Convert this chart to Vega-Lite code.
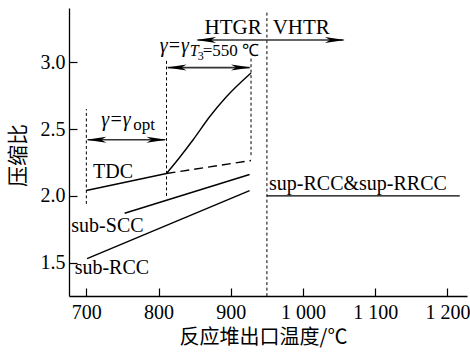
{
  "$schema": "https://vega.github.io/schema/vega-lite/v6.json",
  "width": 398,
  "height": 288,
  "autosize": "none",
  "padding": {"left": 69, "top": 8, "right": 3, "bottom": 58},
  "background": "white",
  "config": {
    "view": {"stroke": null},
    "axis": {
      "grid": false,
      "domainColor": "black",
      "domainWidth": 1.3,
      "tickColor": "black",
      "tickWidth": 1.2,
      "tickSize": -8,
      "labelFont": "Liberation Serif",
      "labelFontSize": 20,
      "labelColor": "black",
      "titleFont": "Noto Sans CJK SC",
      "titleFontWeight": "normal",
      "titleColor": "black"
    }
  },
  "datasets": {
    "lines": [
      {"id": "TDC", "kind": "solid", "t": 700, "r": 2.04, "o": 1},
      {"id": "TDC", "kind": "solid", "t": 811, "r": 2.168, "o": 2},
      {"id": "TDC-T3", "kind": "curve", "t": 811, "r": 2.168, "o": 1},
      {"id": "TDC-T3", "kind": "curve", "t": 828, "r": 2.28, "o": 2},
      {"id": "TDC-T3", "kind": "curve", "t": 847.6, "r": 2.418, "o": 3},
      {"id": "TDC-T3", "kind": "curve", "t": 870.7, "r": 2.592, "o": 4},
      {"id": "TDC-T3", "kind": "curve", "t": 893.9, "r": 2.742, "o": 5},
      {"id": "TDC-T3", "kind": "curve", "t": 928, "r": 2.92, "o": 6},
      {"id": "sub-SCC", "kind": "solid", "t": 753, "r": 1.87, "o": 1},
      {"id": "sub-SCC", "kind": "solid", "t": 926, "r": 2.16, "o": 2},
      {"id": "sub-RCC", "kind": "solid", "t": 701, "r": 1.53, "o": 1},
      {"id": "sub-RCC", "kind": "solid", "t": 926, "r": 2.04, "o": 2},
      {"id": "sup", "kind": "solid", "t": 950, "r": 2.0, "o": 1},
      {"id": "sup", "kind": "solid", "t": 1217, "r": 2.0, "o": 2},
      {"id": "TDC-opt", "kind": "dash", "t": 811, "r": 2.168, "o": 1},
      {"id": "TDC-opt", "kind": "dash", "t": 928, "r": 2.265, "o": 2},
      {"id": "v700", "kind": "dot", "t": 700, "r": 1.94, "o": 1},
      {"id": "v700", "kind": "dot", "t": 700, "r": 2.65, "o": 2},
      {"id": "v811", "kind": "dot", "t": 811, "r": 2.0, "o": 1},
      {"id": "v811", "kind": "dot", "t": 811, "r": 3.02, "o": 2},
      {"id": "v928", "kind": "dot", "t": 928, "r": 2.305, "o": 1},
      {"id": "v928", "kind": "dot", "t": 928, "r": 3.03, "o": 2},
      {"id": "v950", "kind": "dot", "t": 950, "r": 1.25, "o": 1},
      {"id": "v950", "kind": "dot", "t": 950, "r": 3.39, "o": 2},
      {"id": "a-opt", "kind": "arrow", "t": 702, "r": 2.42, "o": 1},
      {"id": "a-opt", "kind": "arrow", "t": 809, "r": 2.42, "o": 2},
      {"id": "a-T3", "kind": "arrow", "t": 813, "r": 2.96, "o": 1},
      {"id": "a-T3", "kind": "arrow", "t": 926, "r": 2.96, "o": 2},
      {"id": "a-HT", "kind": "arrow", "t": 854, "r": 3.167, "o": 1},
      {"id": "a-HT", "kind": "arrow", "t": 1056, "r": 3.167, "o": 2}
    ],
    "heads": [
      {"t": 700, "r": 2.42, "dir": "left"},
      {"t": 811, "r": 2.42, "dir": "right"},
      {"t": 811, "r": 2.96, "dir": "left"},
      {"t": 928, "r": 2.96, "dir": "right"},
      {"t": 852, "r": 3.167, "dir": "left"},
      {"t": 1058, "r": 3.167, "dir": "right"}
    ],
    "labels": [
      {"t": 709.2, "r": 2.132, "text": "TDC", "style": "main", "align": "left"},
      {"t": 679.2, "r": 1.73, "text": "sub-SCC", "style": "main", "align": "left"},
      {"t": 683.8, "r": 1.412, "text": "sub-RCC", "style": "main", "align": "left"},
      {"t": 952.9, "r": 2.043, "text": "sup-RCC&sup-RRCC", "style": "main", "align": "left"},
      {"t": 942.8, "r": 3.21, "text": "HTGR", "style": "big", "align": "right"},
      {"t": 958, "r": 3.21, "text": "VHTR", "style": "big", "align": "left"},
      {"t": 720.8, "r": 2.522, "text": "γ=γ", "style": "ital", "align": "left"},
      {"t": 764.8, "r": 2.492, "text": "opt", "style": "sub", "align": "left"},
      {"t": 801.5, "r": 3.077, "text": "γ=γ", "style": "ital", "align": "left"},
      {"t": 843.2, "r": 3.047, "text": "T", "style": "subital", "align": "left"},
      {"t": 854.2, "r": 3.017, "text": "3", "style": "subsub", "align": "left"},
      {"t": 861.2, "r": 3.047, "text": "=550 ℃", "style": "sub", "align": "left"}
    ]
  },
  "encoding": {
    "x": {
      "field": "t", "type": "quantitative",
      "scale": {"domain": [676, 1227], "nice": false, "zero": false},
      "axis": {
        "values": [700, 800, 900, 1000, 1100, 1200],
        "labelExpr": "replace(format(datum.value, ','), ',', ' ')",
        "labelPadding": 14,
        "title": "反应堆出口温度/℃",
        "titleFontSize": 20,
        "titleX": 194,
        "titleY": 47,
        "titleBaseline": "alphabetic",
        "titleAnchor": null
      }
    },
    "y": {
      "field": "r", "type": "quantitative",
      "scale": {"domain": [1.251, 3.406], "nice": false, "zero": false},
      "axis": {
        "values": [1.5, 2.0, 2.5, 3.0],
        "format": ".1f",
        "labelPadding": 12,
        "title": "压缩比",
        "titleFontSize": 21,
        "titleX": -51,
        "titleY": 147,
        "titleAngle": -90,
        "titleBaseline": "middle",
        "titleAlign": "center"
      }
    }
  },
  "layer": [
    {
      "data": {"name": "lines"},
      "transform": [{"filter": "datum.kind === 'solid'"}],
      "mark": {"type": "line", "color": "black", "strokeWidth": 1.4},
      "encoding": {"detail": {"field": "id"}, "order": {"field": "o"}}
    },
    {
      "data": {"name": "lines"},
      "transform": [{"filter": "datum.kind === 'curve'"}],
      "mark": {"type": "line", "color": "black", "strokeWidth": 1.4, "interpolate": "monotone"},
      "encoding": {"detail": {"field": "id"}, "order": {"field": "o"}}
    },
    {
      "data": {"name": "lines"},
      "transform": [{"filter": "datum.kind === 'dash'"}],
      "mark": {"type": "line", "color": "black", "strokeWidth": 1.4, "strokeDash": [9, 5]},
      "encoding": {"detail": {"field": "id"}, "order": {"field": "o"}}
    },
    {
      "data": {"name": "lines"},
      "transform": [{"filter": "datum.kind === 'dot'"}],
      "mark": {"type": "line", "color": "black", "strokeWidth": 1, "strokeDash": [3, 2.5]},
      "encoding": {"detail": {"field": "id"}, "order": {"field": "o"}}
    },
    {
      "data": {"name": "lines"},
      "transform": [{"filter": "datum.kind === 'arrow'"}],
      "mark": {"type": "line", "color": "#333", "strokeWidth": 1.6},
      "encoding": {"detail": {"field": "id"}, "order": {"field": "o"}}
    },
    {
      "data": {"name": "heads"},
      "mark": {"type": "point", "filled": true, "color": "black", "opacity": 1, "size": 400, "strokeWidth": 0},
      "encoding": {
        "shape": {
          "field": "dir", "type": "nominal",
          "scale": {"domain": ["left", "right"], "range": ["M0,0L2,-0.3L1.5,0L2,0.3Z", "M0,0L-2,-0.3L-1.5,0L-2,0.3Z"]},
          "legend": null
        }
      }
    },
    {
      "data": {"name": "labels"},
      "transform": [{"filter": "datum.style === 'main' && datum.align === 'left'"}],
      "mark": {"type": "text", "font": "Liberation Serif", "fontSize": 20, "align": "left", "baseline": "alphabetic", "color": "black"},
      "encoding": {"text": {"field": "text"}}
    },
    {
      "data": {"name": "labels"},
      "transform": [{"filter": "datum.style === 'big' && datum.align === 'left'"}],
      "mark": {"type": "text", "font": "Liberation Serif", "fontSize": 21, "align": "left", "baseline": "alphabetic", "color": "black"},
      "encoding": {"text": {"field": "text"}}
    },
    {
      "data": {"name": "labels"},
      "transform": [{"filter": "datum.style === 'big' && datum.align === 'right'"}],
      "mark": {"type": "text", "font": "Liberation Serif", "fontSize": 21, "align": "right", "baseline": "alphabetic", "color": "black"},
      "encoding": {"text": {"field": "text"}}
    },
    {
      "data": {"name": "labels"},
      "transform": [{"filter": "datum.style === 'ital'"}],
      "mark": {"type": "text", "font": "Liberation Serif", "fontSize": 20, "fontStyle": "italic", "align": "left", "baseline": "alphabetic", "color": "black"},
      "encoding": {"text": {"field": "text"}}
    },
    {
      "data": {"name": "labels"},
      "transform": [{"filter": "datum.style === 'sub'"}],
      "mark": {"type": "text", "font": "Liberation Serif", "fontSize": 17, "align": "left", "baseline": "alphabetic", "color": "black"},
      "encoding": {"text": {"field": "text"}}
    },
    {
      "data": {"name": "labels"},
      "transform": [{"filter": "datum.style === 'subital'"}],
      "mark": {"type": "text", "font": "Liberation Serif", "fontSize": 16, "fontStyle": "italic", "align": "left", "baseline": "alphabetic", "color": "black"},
      "encoding": {"text": {"field": "text"}}
    },
    {
      "data": {"name": "labels"},
      "transform": [{"filter": "datum.style === 'subsub'"}],
      "mark": {"type": "text", "font": "Liberation Serif", "fontSize": 12, "align": "left", "baseline": "alphabetic", "color": "black"},
      "encoding": {"text": {"field": "text"}}
    }
  ]
}
